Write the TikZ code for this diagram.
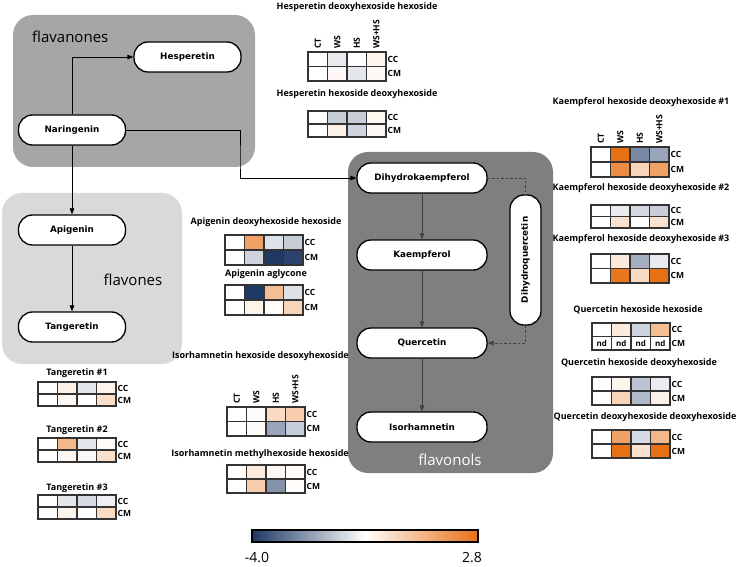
\documentclass[tikz,border=0pt]{standalone}
\usepackage{fontspec}
\setmainfont{Open Sans}
\newfontfamily\stepfont{DejaVu Sans}
\usetikzlibrary{arrows.meta}
\definecolor{hb}{RGB}{31,56,100}
\definecolor{ho}{RGB}{232,112,20}
\definecolor{grpA}{RGB}{166,166,166}
\definecolor{grpB}{RGB}{217,217,217}
\definecolor{grpC}{RGB}{127,127,127}
\tikzset{
    pathway/.style={draw, line width=1.3pt, fill=white, rounded corners=14pt,
      minimum width=107pt, minimum height=30pt, inner sep=0pt,
      font=\stepfont\bfseries\fontsize{8.8}{10}\selectfont},
    grp/.style={rounded corners=20pt},
    grplab/.style={font=\fontsize{15}{18}\selectfont, inner sep=0pt},
    flow/.style={-{Triangle[length=6pt,width=4.5pt]}, line width=0.8pt},
    cell/.style={draw=black!80, line width=1.2pt},
    hmtitle/.style={font=\bfseries\fontsize{9}{10}\selectfont, inner sep=0pt},
    rowlab/.style={font=\bfseries\fontsize{8.5}{9}\selectfont, anchor=west, inner sep=1.5pt},
    collab/.style={font=\bfseries\fontsize{8.5}{9}\selectfont, rotate=90, anchor=west, inner sep=1pt},
  }
% heat map: name, left x, top y, row height, CC colours, CM colours
\newcommand\heatmap[6]{%
  \foreach \hc [count=\hi from 0] in {#5}
    \draw[cell, fill=\hc] (#2+\hi*19.5,#3) rectangle ++(19.5,#4);
  \foreach \hc [count=\hi from 0] in {#6}
    \draw[cell, fill=\hc] (#2+\hi*19.5,#3+#4) rectangle ++(19.5,#4);
  \node[rowlab] (#1-cc) at (#2+78,#3+0.5*#4) {CC};
  \node[rowlab] (#1-cm) at (#2+78,#3+1.5*#4) {CM};
}
% column heads: name, left x, bottom y
\newcommand\heathead[3]{%
  \foreach \hh [count=\hi from 0] in {CT,WS,HS,WS+HS}
    \node[collab] (#1-h\hi) at (#2+9.75+\hi*19.5,#3) {\hh};
}

\begin{document}
\begin{tikzpicture}[x=1pt,y=-1pt]
  \useasboundingbox (0,0) rectangle (737,567);
  %groups
  \fill[grp, grpB] (2,193) rectangle (182,364);
  \fill[grp, grpA] (13,15) rectangle (255,167);
  \fill[grp, grpC] (348,152) rectangle (553,473);
  \node[grplab, anchor=west] (flavanones) at (32,37) {flavanones};
  \node[grplab] (flavones) at (133,280) {flavones};
  \node[grplab, white] (flavonols) at (450,460) {flavonols};

  %compounds
  \node[pathway] (Naringenin) at (72,130) {Naringenin};
  \node[pathway] (Hesperetin) at (187.5,57) {Hesperetin};
  \node[pathway] (Apigenin) at (72,230) {Apigenin};
  \node[pathway] (Tangeretin) at (72,327) {Tangeretin};
  \node[pathway, minimum width=130pt] (Dihydrokaempferol) at (422,178) {Dihydrokaempferol};
  \node[pathway, minimum width=130pt] (Kaempferol) at (422,255) {Kaempferol};
  \node[pathway, minimum width=130pt] (Quercetin) at (422,343) {Quercetin};
  \node[pathway, minimum width=130pt] (Isorhamnetin) at (422,427) {Isorhamnetin};
  \node[pathway, rotate=90, minimum width=130pt, minimum height=31pt] (Dihydroquercetin) at (525.5,260) {Dihydroquercetin};

  %arrows
  \coordinate (nk) at (240,160);
  \draw[flow] (Naringenin.north) |- (Hesperetin.west);
  \draw[flow] (Naringenin.east) -| (nk) |- (Dihydrokaempferol.west);
  \draw[flow] (Naringenin.south) -- (Apigenin.north);
  \draw[flow] (Apigenin.south) -- (Tangeretin.north);
  \draw[flow, black!75] (Dihydrokaempferol.south) -- (Kaempferol.north);
  \draw[flow, black!75] (Kaempferol.south) -- (Quercetin.north);
  \draw[flow, black!75] (Quercetin.south) -- (Isorhamnetin.north);
  \draw[black!75, dash pattern=on 2.5pt off 2pt, line width=0.8pt] (Dihydrokaempferol.east) -| (Dihydroquercetin.east);
  \draw[flow, black!75, dash pattern=on 2.5pt off 2pt] (Dihydroquercetin.west) |- (Quercetin.east);

  %hesperetin
  \node[hmtitle] (hesp1) at (357,7) {Hesperetin deoxyhexoside hexoside};
  \heathead{hesp1}{308}{50}
  \heatmap{hesp1}{308}{52}{14.5}{white,hb!10,white,ho!8}{white,ho!4,hb!12,ho!4}
  \node[hmtitle] (hesp2) at (357,94) {Hesperetin hexoside deoxyhexoside};
  \heatmap{hesp2}{308}{111}{13}{white,hb!25,hb!25,ho!5}{white,ho!10,hb!22,ho!4}

  %kaempferol
  \node[hmtitle] (kaem1) at (641,102) {Kaempferol hexoside deoxyhexoside \#1};
  \heathead{kaem1}{591}{145}
  \heatmap{kaem1}{591}{147}{15}{white,ho,hb!60,hb!45}{white,ho!80,ho!30,ho!65}
  \node[hmtitle] (kaem2) at (641,188) {Kaempferol hexoside deoxyhexoside \#2};
  \heatmap{kaem2}{591}{205}{11.5}{white,hb!10,hb!20,hb!25}{white,ho!20,white,ho!20}
  \node[hmtitle] (kaem3) at (641,239) {Kaempferol hexoside deoxyhexoside \#3};
  \heatmap{kaem3}{591}{254}{14.5}{white,ho!15,hb!40,hb!10}{white,ho!95,ho!25,ho}

  %quercetin
  \node[hmtitle] (quer1) at (638,310) {Quercetin hexoside hexoside};
  \heatmap{quer1}{592}{323}{13.5}{white,ho!15,hb!22,ho!45}{white,white,white,white}
  \foreach \hi in {0,...,3}
    \node[font=\bfseries\fontsize{8}{9}\selectfont, inner sep=0pt] (quer1-nd\hi) at (601.75+\hi*19.5,343.25) {nd};
  \node[hmtitle] (quer2) at (639,363) {Quercetin hexoside deoxyhexoside};
  \heatmap{quer2}{592}{377}{14}{white,ho!8,hb!30,hb!10}{white,ho!30,hb!35,ho!10}
  \node[hmtitle] (quer3) at (645,417) {Quercetin deoxyhexoside deoxyhexoside};
  \heatmap{quer3}{592}{430}{14}{white,ho!65,hb!18,ho!50}{white,ho,ho!20,ho}

  %apigenin
  \node[hmtitle] (apig1) at (266,222) {Apigenin deoxyhexoside hexoside};
  \heatmap{apig1}{225}{235}{15}{white,ho!65,hb!15,hb!25}{white,hb!22,hb,hb!95}
  \node[hmtitle] (apig2) at (266,274) {Apigenin aglycone};
  \heatmap{apig2}{225}{285}{15}{white,hb,ho!45,hb!15}{white,ho!8,ho!2,ho!30}

  %isorhamnetin
  \node[hmtitle, anchor=east] (isor1) at (349,356) {Isorhamnetin hexoside desoxyhexoside};
  \heathead{isor1}{227}{405}
  \heatmap{isor1}{227}{407}{14.5}{white,ho!3,ho!25,ho!35}{white,ho!3,hb!45,hb!25}
  \node[hmtitle, anchor=east] (isor2) at (349,454) {Isorhamnetin methylhexoside hexoside};
  \heatmap{isor2}{227}{465}{14}{white,ho!15,ho!6,ho!2}{white,ho!35,hb!55,ho!2}

  %tangeretin
  \node[hmtitle] (tang1) at (77,373) {Tangeretin \#1};
  \heatmap{tang1}{38}{382}{12}{white,ho!10,hb!12,ho!8}{white,ho!6,white,ho!22}
  \node[hmtitle] (tang2) at (77,430) {Tangeretin \#2};
  \heatmap{tang2}{38}{438}{12}{white,ho!50,hb!12,ho!3}{white,ho!5,hb!3,ho!22}
  \node[hmtitle] (tang3) at (77,488) {Tangeretin \#3};
  \heatmap{tang3}{38}{495}{12}{white,hb!12,hb!18,hb!8}{white,ho!8,white,ho!25}

  %colour scale
  \shade[left color=hb, right color=ho, middle color=white] (252,530) rectangle (478,542);
  \draw[line width=1.2pt] (252,530) rectangle (478,542);
  \node[font=\fontsize{14}{16}\selectfont] (scalemin) at (257,558) {-4.0};
  \node[font=\fontsize{14}{16}\selectfont] (scalemax) at (472,558) {2.8};
\end{tikzpicture}
\end{document}
